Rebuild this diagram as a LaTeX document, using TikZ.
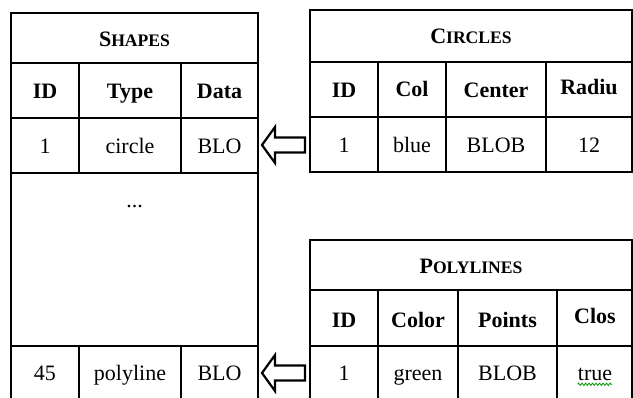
\documentclass[tikz,border=0pt]{standalone}
\usepackage{fontspec}
\setmainfont{Liberation Serif}
\usetikzlibrary{decorations.pathmorphing}
% fake small caps for the table titles
\newcommand{\fsc}[2]{#1{\fontsize{17.6}{18}\selectfont #2}}
\begin{document}
\begin{tikzpicture}[x=1pt,y=-1pt,
	grid/.style={line width=2.6pt},
	cell/.style={inner sep=0pt, text height=14.6pt, text depth=0pt, font=\fontsize{22}{24}\selectfont},
	head/.style={cell, font=\fontsize{22}{24}\selectfont\bfseries},
	fatarrow/.style={line width=2.2pt, fill=white, line join=miter}]
	\useasboundingbox (0,0) rectangle (633,398);
	\clip (0,0) rectangle (633,398);
	% Shapes table
	\draw[grid] (11,13) rectangle (258,420);
	\draw[grid] (11,63)--(258,63) (11,118)--(258,118) (11,173)--(258,173) (11,346)--(258,346);
	\draw[grid] (79,63)--(79,173) (181,63)--(181,173) (79,346)--(79,420) (181,346)--(181,420);
	\node[head] (sTitle) at (134.5,39) {\fsc{S}{HAPES}};
	\node[head] (sId) at (45,91) {ID};
	\node[head] (sType) at (130,91) {Type};
	\node[head] (sData) at (219.5,91) {Data};
	\node[cell] (sId1) at (45,146) {1};
	\node[cell] (sType1) at (130,146) {circle};
	\node[cell] (sData1) at (219.5,146) {BLO};
	\node[cell, anchor=base] (sDots) at (134.5,208) {...};
	\node[cell] (sId2) at (45,373) {45};
	\node[cell] (sType2) at (130,373) {polyline};
	\node[cell] (sData2) at (219.5,373) {BLO};
	% Circles table
	\draw[grid] (310,10) rectangle (632,172);
	\draw[grid] (310,62)--(632,62) (310,117)--(632,117);
	\draw[grid] (378,62)--(378,172) (446,62)--(446,172) (546,62)--(546,172);
	\node[head] (cTitle) at (471,36) {\fsc{C}{IRCLES}};
	\node[head] (cId) at (344,90) {ID};
	\node[head] (cCol) at (412,89) {Col};
	\node[head] (cCenter) at (496,90) {Center};
	\node[head] (cRadius) at (589,87) {Radiu};
	\node[cell] (cId1) at (344,145) {1};
	\node[cell] (cCol1) at (412,145) {blue};
	\node[cell] (cCenter1) at (496,145) {BLOB};
	\node[cell] (cRadius1) at (589,145) {12};
	% Polylines table
	\draw[grid] (310,240) rectangle (632,420);
	\draw[grid] (310,290)--(632,290) (310,346)--(632,346);
	\draw[grid] (378,290)--(378,420) (458,290)--(458,420) (557,290)--(557,420);
	\node[head] (pTitle) at (471,266) {\fsc{P}{OLYLINES}};
	\node[head] (pId) at (344,320) {ID};
	\node[head] (pColor) at (418,320) {Color};
	\node[head] (pPoints) at (507.5,320) {Points};
	\node[head] (pClosed) at (595,316) {Clos};
	\node[cell] (pId1) at (344,373) {1};
	\node[cell] (pColor1) at (418,373) {green};
	\node[cell] (pPoints1) at (507.5,373) {BLOB};
	\node[cell] (pClosed1) at (595,373) {true};
	\draw[green!60!black, line width=0.8pt, decorate, decoration={zigzag, segment length=3.5pt, amplitude=1.2pt}]
		([yshift=-4pt]pClosed1.base west) -- ([yshift=-4pt]pClosed1.base east);
	% references between the tables
	\foreach \y/\n in {145/1, 373/2}{
		\coordinate (tip\n) at (262,\y);
		\draw[fatarrow] (tip\n) -- ++(13,-18) -- ++(0,10.5) -- ++(30,0) -- ++(0,15) -- ++(-30,0) -- ++(0,10.5) -- cycle;
	}
\end{tikzpicture}
\end{document}
